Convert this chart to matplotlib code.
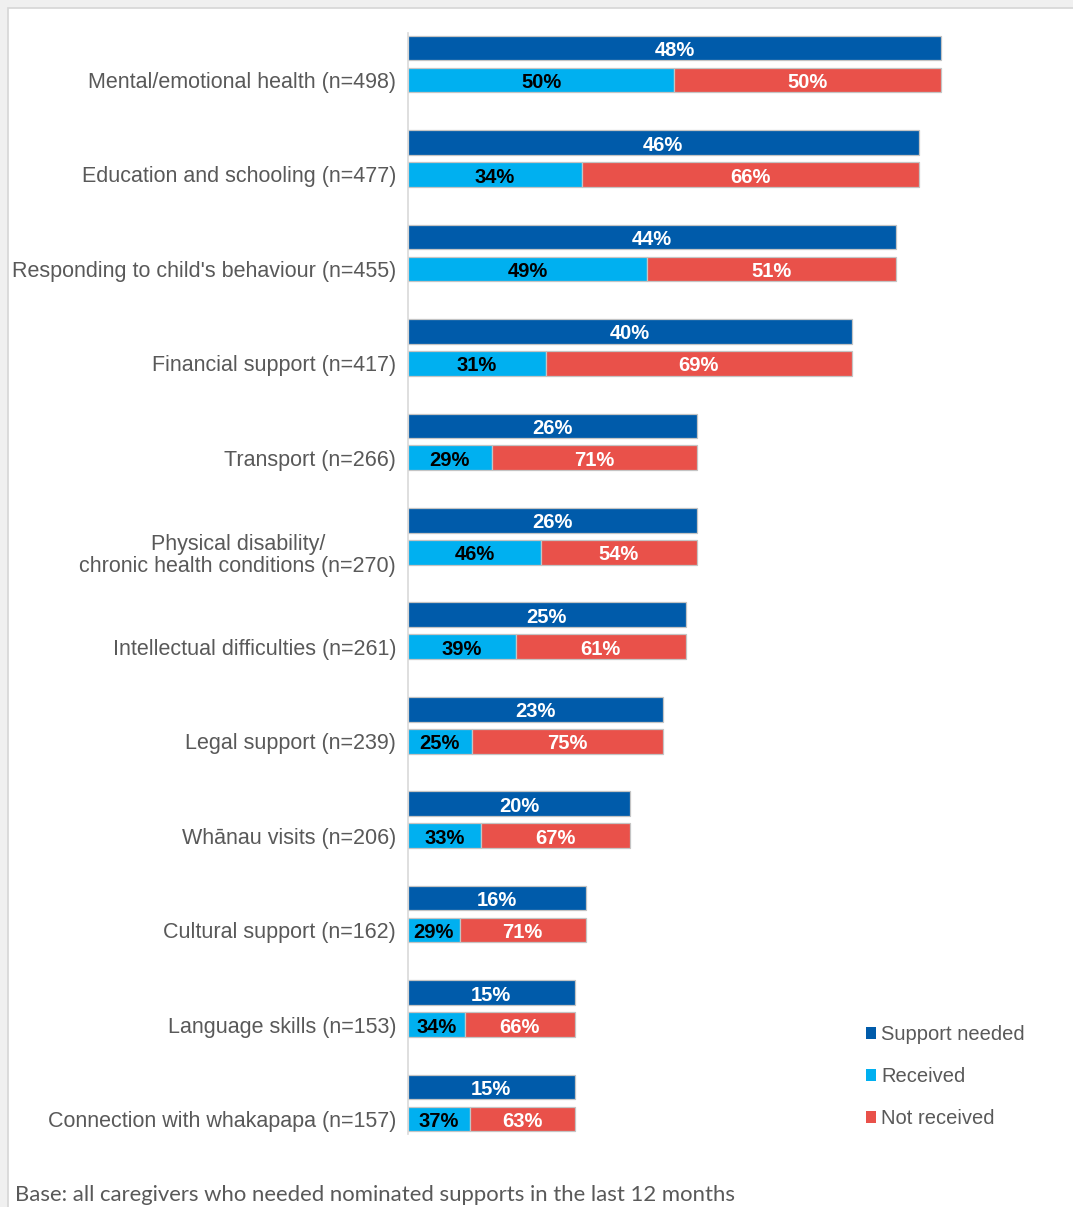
import numpy as np
import matplotlib.pyplot as plt
from matplotlib.patches import Rectangle

categories = [
    "Mental/emotional health (n=498)",
    "Education and schooling (n=477)",
    "Responding to child's behaviour (n=455)",
    "Financial support (n=417)",
    "Transport (n=266)",
    "Physical disability/\nchronic health conditions (n=270)",
    "Intellectual difficulties (n=261)",
    "Legal support (n=239)",
    "Whānau visits (n=206)",
    "Cultural support (n=162)",
    "Language skills (n=153)",
    "Connection with whakapapa (n=157)",
]
needed = [48, 46, 44, 40, 26, 26, 25, 23, 20, 16, 15, 15]
received = [50, 34, 49, 31, 29, 46, 39, 25, 33, 29, 34, 37]
not_received = [50, 66, 51, 69, 71, 54, 61, 75, 67, 71, 66, 63]

c_needed = "#005BAA"
c_recv = "#00B0F0"
c_not = "#E9514A"
edge = "#c4c4c4"
grey_txt = "#595959"

W, H = 1073, 1207
fig = plt.figure(figsize=(W / 100, H / 100), dpi=100, facecolor="#f0f0f0")
fig.patches.append(Rectangle((8 / W, -0.01), 1.0, 1 - 8 / H + 0.01,
                             transform=fig.transFigure, facecolor="white",
                             edgecolor="#d6d6d6", linewidth=1.2, zorder=-5))

# axes spans the category axis line: x 408 px, y 33..1134 px
ax_left, ax_right = 408, 1063
ax_top, ax_bot = 33, 1134
ax = fig.add_axes([ax_left / W, 1 - ax_bot / H, (ax_right - ax_left) / W,
                   (ax_bot - ax_top) / H])
ax.set_facecolor("none")

px_per_pct = 11.1
ax.set_xlim(0, (ax_right - ax_left) / px_per_pct)
step = 94.45
ax.set_ylim((ax_bot - 80) / step, (ax_top - 80) / step)

y = np.arange(len(categories))
needed = np.array(needed, dtype=float)
recv_w = needed * np.array(received) / 100
not_w = needed * np.array(not_received) / 100

h = 0.262
off = 0.338
bar_kw = dict(height=h, edgecolor=edge, linewidth=0.9)
b1 = ax.barh(y - off, needed, color=c_needed, label="Support needed", **bar_kw)
b2 = ax.barh(y, recv_w, color=c_recv, label="Received", **bar_kw)
b3 = ax.barh(y, not_w, left=recv_w, color=c_not, label="Not received", **bar_kw)

# nudge labels down a touch so the digits sit centred in the bars
dy = 0.027
lab_kw = dict(ha="center", va="center", fontsize=14.5, fontweight="bold",
              family="Liberation Sans")
for i in range(len(categories)):
    ax.text(needed[i] / 2, y[i] - off + dy, f"{needed[i]:.0f}%", color="white", **lab_kw)
    ax.text(recv_w[i] / 2, y[i] + dy, f"{received[i]}%", color="black", **lab_kw)
    ax.text(recv_w[i] + not_w[i] / 2, y[i] + dy, f"{not_received[i]}%", color="white", **lab_kw)

ax.set_yticks(y)
ax.set_yticklabels(categories, fontsize=15.5, color=grey_txt,
                   family="Liberation Sans", linespacing=1.08)
for lbl in ax.get_yticklabels():
    lbl.set_multialignment("center")
ax.tick_params(axis="y", length=0, pad=8.5)
ax.set_xticks([])
for s in ["top", "right", "bottom"]:
    ax.spines[s].set_visible(False)
ax.spines["left"].set_color("#d9d9d9")
ax.spines["left"].set_linewidth(1.2)

leg = fig.legend(handles=[b1, b2, b3], loc="upper left",
                 bbox_to_anchor=(866 / W, 1 - 1025 / H), frameon=False,
                 prop={"family": "Liberation Sans", "size": 14.5},
                 handlelength=0.5, handleheight=0.5, handletextpad=0.25,
                 labelspacing=1.14, borderpad=0, borderaxespad=0)
for t in leg.get_texts():
    t.set_color(grey_txt)
for p in leg.get_patches():
    p.set_edgecolor("none")

fig.text(15 / W, 6 / H, "Base: all caregivers who needed nominated supports in the last 12 months",
         fontsize=15.9, color=grey_txt, family="Lato", ha="left", va="baseline")

fig.savefig("out.png", dpi=100, facecolor=fig.get_facecolor())
